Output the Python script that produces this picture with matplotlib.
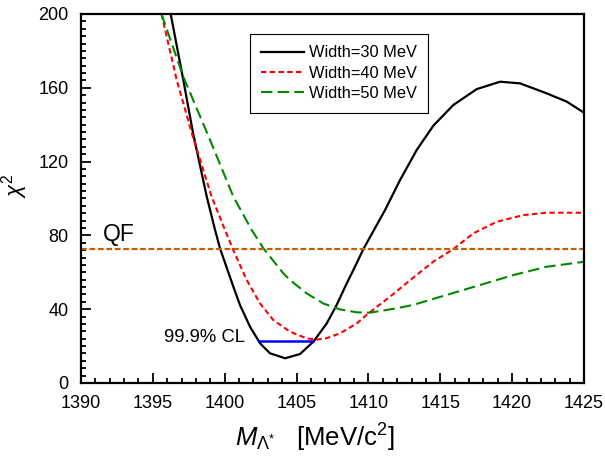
import numpy as np
import matplotlib
matplotlib.use('Agg')
import matplotlib.pyplot as plt
from matplotlib.ticker import MultipleLocator

plt.rcParams['font.family'] = ['Liberation Sans', 'DejaVu Sans']
plt.rcParams['mathtext.fontset'] = 'custom'
plt.rcParams['mathtext.rm'] = 'Liberation Sans'
plt.rcParams['mathtext.it'] = 'Liberation Sans:italic'

# chi^2 curves
x30 = [1396.24, 1397.12, 1397.8, 1398.75, 1399.33, 1399.67, 1400.6, 1401.06, 1401.76,
       1402.46, 1403.15, 1404.2, 1405.24, 1406.17, 1407.1, 1407.79, 1408.49, 1408.95,
       1409.65, 1411.16, 1412.2, 1413.36, 1414.52, 1415.91, 1417.54, 1419.16, 1420.55,
       1422.4, 1423.8, 1425.0]
y30 = [200, 164.2, 135.3, 101, 82.9, 73, 52.2, 42.3, 30.5,
       21.5, 16.1, 13.4, 15.7, 22.4, 32.3, 42.3, 54, 61.2,
       72.6, 93.8, 110, 126.3, 139.5, 150.7, 159.3, 163.3, 162.4,
       157, 152.5, 146.5]

x40 = [1395.6, 1396.66, 1397.8, 1399.09, 1400.02, 1400.6, 1401.53, 1402.46, 1403.38,
       1404.54, 1405.7, 1406.4, 1407.1, 1408.02, 1409.19, 1409.99, 1411.5, 1413.1,
       1414.5, 1415.91, 1417.3, 1418.93, 1420.78, 1422.4, 1425.0]
y40 = [200, 164.2, 133, 101, 82.9, 72, 55.8, 43.1, 34.1,
       27.8, 24.2, 23.5, 24.3, 26.9, 32.3, 37.7, 46.8, 57,
       65.7, 72.6, 81.1, 87.4, 91, 92.3, 92.3]

x50 = [1395.6, 1397.12, 1398.98, 1400.6, 1401.88, 1402.69, 1404.08, 1404.54, 1405.7,
       1406.86, 1408.02, 1409.19, 1410.1, 1411.97, 1413.1, 1416.6, 1420.08, 1422.4, 1425.0]
y50 = [200, 166, 131.7, 101, 82.9, 73, 59.4, 55.8, 48.6,
       43.1, 39.9, 38.3, 38.1, 40.5, 42.3, 50.4, 58.5, 63, 65.7]

qf = 72.6
cl_x = [1402.4, 1406.17]
cl_y = 22.9

fig = plt.figure(figsize=(6.05, 4.59), dpi=100)
ax = fig.add_axes([0.1339, 0.1656, 0.8314, 0.8039])

ax.plot(x30, y30, color='black', lw=1.6, label='Width=30 MeV')
ax.plot(x40, y40, color='#ff0000', lw=1.5, dashes=(2.6, 1.6), label='Width=40 MeV')
ax.plot(x50, y50, color='#008800', lw=1.5, dashes=(5.5, 2.5), label='Width=50 MeV')
ax.axhline(qf, color='#c06000', lw=1.6, dashes=(2.6, 1.2))
ax.plot(cl_x, [cl_y, cl_y], color='#0000ff', lw=1.8)

ax.text(1391.5, 74.5, 'QF', fontsize=16.5, ha='left', va='bottom')
ax.text(1401.41, 24.4, '99.9% CL', fontsize=13.3, ha='right', va='center')

ax.set_xlim(1390, 1425)
ax.set_ylim(0, 200)
ax.xaxis.set_major_locator(MultipleLocator(5))
ax.xaxis.set_minor_locator(MultipleLocator(1))
ax.yaxis.set_major_locator(MultipleLocator(40))
ax.yaxis.set_minor_locator(MultipleLocator(4))
ax.tick_params(which='both', direction='in', top=False, right=False, labelsize=13, width=1.3)
ax.tick_params(which='major', length=7, pad=9)
ax.tick_params(which='minor', length=3.5)
for s in ax.spines.values():
    s.set_linewidth(1.6)

ax.set_ylabel(r'$\chi^2$', fontsize=16)
ax.yaxis.set_label_coords(-0.101, 0.534)
ax.set_xlabel(r'$M_{\Lambda^{*}}$   [MeV/c$^2$]', fontsize=18.5)
ax.xaxis.set_label_coords(0.464, -0.104)

leg = ax.legend(loc='upper left', bbox_to_anchor=(0.336, 0.946), fontsize=11.8,
                frameon=True, fancybox=False, edgecolor='black', framealpha=1,
                handlelength=2.6, handletextpad=0.3, borderpad=0.7, labelspacing=0.33,
                borderaxespad=0)
leg.get_frame().set_linewidth(0.8)

fig.savefig('out.png', dpi=100)
